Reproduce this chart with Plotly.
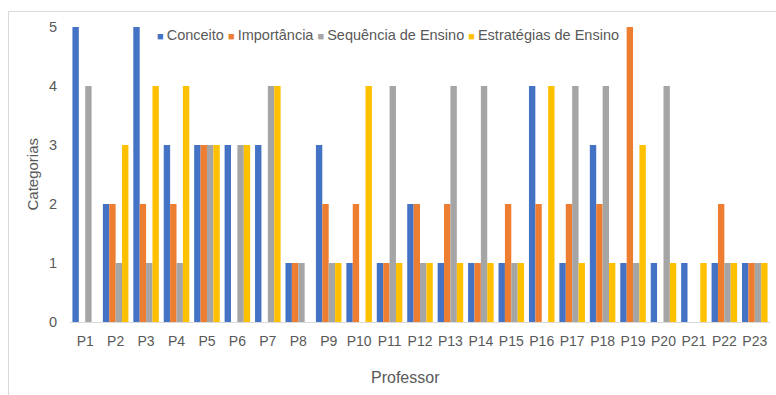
import plotly.graph_objects as go

professores = [f"P{i}" for i in range(1, 24)]
conceito    = [5, 2, 5, 3, 3, 3, 3, 1, 3, 1, 1, 2, 1, 1, 1, 4, 1, 3, 1, 1, 1, 1, 1]
importancia = [0, 2, 2, 2, 3, 0, 0, 1, 2, 2, 1, 2, 2, 1, 2, 2, 2, 2, 5, 0, 0, 2, 1]
sequencia   = [4, 1, 1, 1, 3, 3, 4, 1, 1, 0, 4, 1, 4, 4, 1, 0, 4, 4, 1, 4, 0, 1, 1]
estrategias = [0, 3, 4, 4, 3, 3, 4, 0, 1, 4, 1, 1, 1, 1, 1, 4, 1, 1, 3, 1, 1, 1, 1]

series_names = ["Conceito", "Importância", "Sequência de Ensino", "Estratégias de Ensino"]
series_vals = [conceito, importancia, sequencia, estrategias]
series_colors = ["#4472C4", "#ED7D31", "#A5A5A5", "#FFC000"]

W, H = 776, 395
L, R, T, B = 70, 6, 27, 73
pw, ph = W - L - R, H - T - B

def px_x(p):
    return (p - L) / pw

def px_y(p):
    return (H - B - p) / ph

FONT = "Liberation Sans, Arial, sans-serif"
GREY = "#595959"

fig = go.Figure()
for name, vals, color in zip(series_names, series_vals, series_colors):
    fig.add_trace(go.Bar(
        x=professores, y=vals, name=name,
        marker=dict(color=color, line=dict(width=0)),
        showlegend=False,
    ))

legend_text = " ".join(
    f"<span style='color:{c};font-size:11px'>■ </span>{n}"
    for n, c in zip(series_names, series_colors)
)
fig.add_annotation(
    text=legend_text, xref="paper", yref="paper", x=px_x(155), y=px_y(35),
    xanchor="left", yanchor="middle", showarrow=False,
    font=dict(size=14.5, color=GREY, family=FONT),
)
fig.add_annotation(
    text="Professor", xref="paper", yref="paper", x=px_x(405), y=px_y(377),
    xanchor="center", yanchor="middle", showarrow=False,
    font=dict(size=16, color=GREY, family=FONT),
)
fig.add_annotation(
    text="Categorias", xref="paper", yref="paper", x=px_x(32), y=0.5,
    xanchor="center", yanchor="middle", showarrow=False, textangle=-90,
    font=dict(size=15, color=GREY, family=FONT),
)
# chart frame (left and top edges)
fig.add_shape(type="line", xref="paper", yref="paper",
              x0=px_x(8.5), x1=px_x(8.5), y0=px_y(11.5), y1=px_y(400),
              line=dict(color="#D9D9D9", width=1))
fig.add_shape(type="line", xref="paper", yref="paper",
              x0=px_x(8.5), x1=px_x(800), y0=px_y(11.5), y1=px_y(11.5),
              line=dict(color="#D9D9D9", width=1))

fig.update_layout(
    width=W, height=H,
    margin=dict(l=L, r=R, t=T, b=B),
    paper_bgcolor="white", plot_bgcolor="white",
    barmode="group", bargap=0.16, bargroupgap=0.0,
    font=dict(family=FONT, size=14, color=GREY),
    xaxis=dict(showline=True, linecolor="#D9D9D9", linewidth=1, ticks="",
               tickfont=dict(size=14, color=GREY), automargin=False,
               ticklabelstandoff=6),
    yaxis=dict(range=[0, 5], dtick=1, showgrid=False, zeroline=False, showline=False,
               tickfont=dict(size=14.5, color=GREY), automargin=False,
               ticklabelstandoff=12),
)

fig.write_html("out.html", config={"displayModeBar": False},
               post_script="document.body.style.margin='0';document.body.style.overflow='hidden';")
